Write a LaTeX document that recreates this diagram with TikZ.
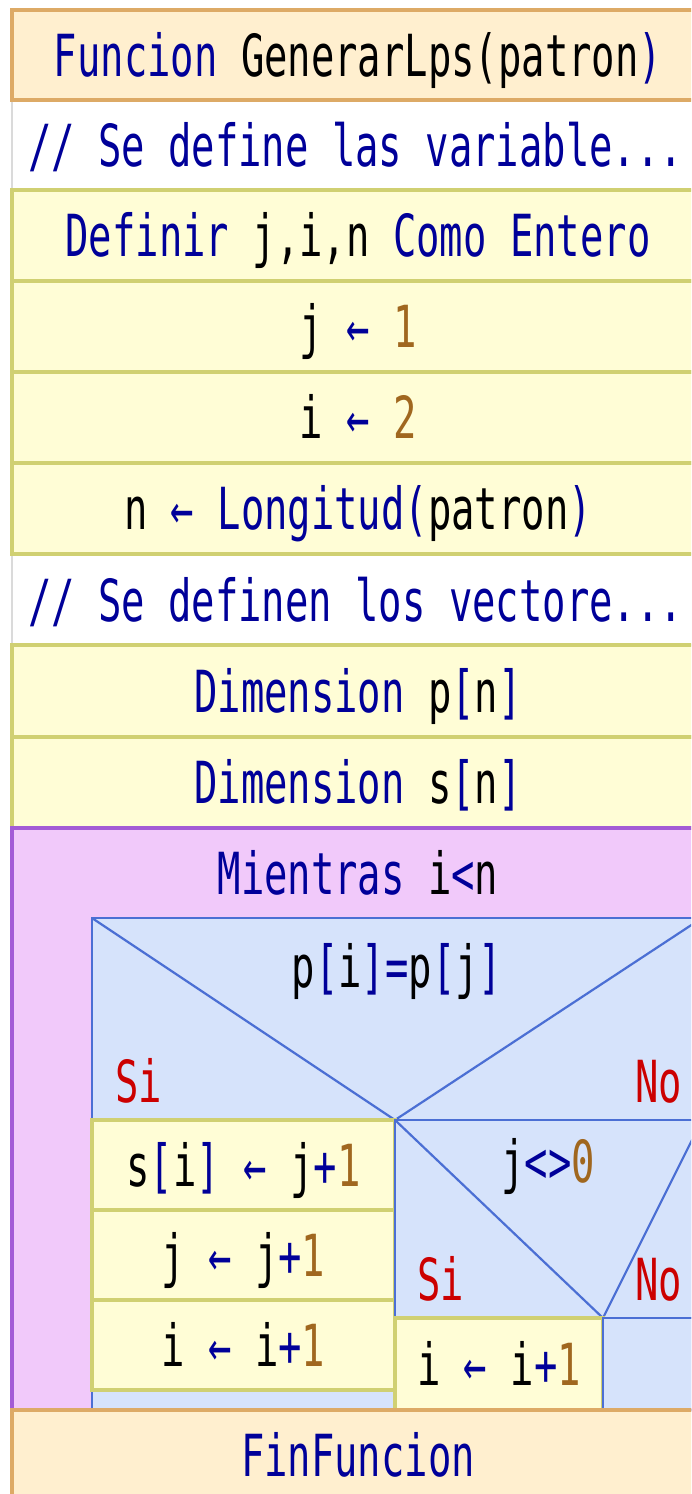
\documentclass[tikz,border=0pt]{standalone}
\usepackage{fontspec}
\setmainfont{DejaVu Sans Mono}[FakeStretch=0.67]
\definecolor{kw}{HTML}{000099}
\definecolor{nm}{HTML}{A0671F}
\definecolor{sino}{HTML}{CC0000}
\definecolor{hdrfill}{HTML}{FFEFCF}
\definecolor{hdrline}{HTML}{DDAA66}
\definecolor{stmtfill}{HTML}{FFFDD6}
\definecolor{stmtline}{HTML}{D0D072}
\definecolor{cmtline}{HTML}{DADADA}
\definecolor{loopfill}{HTML}{F1C9FA}
\definecolor{loopline}{HTML}{A35BD6}
\definecolor{condfill}{HTML}{D6E3FB}
\definecolor{condline}{HTML}{4B6FD4}
\newcommand{\kwd}[1]{\textcolor{kw}{#1}}
\newcommand{\nmb}[1]{\textcolor{nm}{#1}}
\begin{document}
\begin{tikzpicture}[x=1pt,y=-1pt,
  every node/.style={font=\fontsize{58}{60}\selectfont, inner sep=0pt, outer sep=0pt, text=black},
  box/.style={rectangle, anchor=north west, line width=3.5pt, text height=42pt, text depth=0pt},
  hdr/.style={box, fill=hdrfill, draw=hdrline},
  stmt/.style={box, fill=stmtfill, draw=stmtline},
  cmt/.style={box, fill=white, draw=cmtline, line width=2.5pt},
  loopbox/.style={box, fill=loopfill, draw=loopline, line width=3.5pt},
  condbox/.style={box, fill=condfill, draw=condline, line width=2.5pt},
  diag/.style={draw=condline, line width=2.2pt},
  lbl/.style={text=sino},
  cmttxt/.style={anchor=base west, text=kw},
  txt/.style={anchor=base}
]
\useasboundingbox (0,0) rectangle (691,1494);
\clip (0,0) rectangle (691,1494);
\fill[white] (0,0) rectangle (691,1494);

% comments
\node[cmt, minimum width=692pt, minimum height=90pt] (c1) at (12,100) {};
\node[cmttxt] (c1t) at (28,166) {// Se define las variable...};
\node[cmt, minimum width=692pt, minimum height=91pt] (c2) at (12,554) {};
\node[cmttxt] (c2t) at (28,621) {// Se definen los vectore...};

% header
\node[hdr, minimum width=692pt, minimum height=90pt] (hd) at (12,10) {\kwd{Funcion} GenerarLps(patron\kwd{)}};

% statements
\node[stmt, minimum width=692pt, minimum height=91pt] (def) at (12,190) {\kwd{Definir} j,i,n \kwd{Como Entero}};
\node[stmt, minimum width=692pt, minimum height=91pt] (sj) at (12,281) {j \kwd{←} \nmb{1}};
\node[stmt, minimum width=692pt, minimum height=91pt] (si) at (12,372) {i \kwd{←} \nmb{2}};
\node[stmt, minimum width=692pt, minimum height=91pt] (sn) at (12,463) {n \kwd{←} \kwd{Longitud(}patron\kwd{)}};
\node[stmt, minimum width=692pt, minimum height=92pt] (dp) at (12,645) {\kwd{Dimension} p\kwd{[}n\kwd{]}};
\node[stmt, minimum width=692pt, minimum height=91pt] (ds) at (12,737) {\kwd{Dimension} s\kwd{[}n\kwd{]}};

% while loop
\node[loopbox, minimum width=692pt, minimum height=582pt] (mw) at (12,828) {};
\node[txt] (mwt) at (358,894) {\kwd{Mientras} i\kwd{<}n};

% outer if
\node[condbox, minimum width=610pt, minimum height=492pt] (if1) at (92,918) {};
\coordinate (a1) at (395,1120);
\draw[diag] (if1.north west) -- (a1) -- (if1.north east);
\node[txt] (if1t) at (397,987) {p\kwd{[}i\kwd{]=}p\kwd{[}j\kwd{]}};
\node[lbl, anchor=base west] (si1) at (115,1102) {Si};
\node[lbl, anchor=base east] (no1) at (682,1102) {No};

% Si branch of outer if
\node[stmt, minimum width=303pt, minimum height=90pt] (b1) at (92,1120) {s\kwd{[}i\kwd{]} \kwd{←} j\kwd{+}\nmb{1}};
\node[stmt, minimum width=303pt, minimum height=90pt] (b2) at (92,1210) {j \kwd{←} j\kwd{+}\nmb{1}};
\node[stmt, minimum width=303pt, minimum height=90pt] (b3) at (92,1300) {i \kwd{←} i\kwd{+}\nmb{1}};

% inner if
\node[condbox, minimum width=307pt, minimum height=198pt] (if2) at (395,1120) {};
\coordinate (a2) at (603,1318);
\draw[diag] (if2.north west) -- (a2) -- (if2.north east);
\node[txt] (if2t) at (548,1182) {j\kwd{<>}\nmb{0}};
\node[lbl, anchor=base west] (si2) at (417,1300) {Si};
\node[lbl, anchor=base east] (no2) at (682,1300) {No};
\node[stmt, minimum width=208pt, minimum height=92pt] (b4) at (395,1318) {i \kwd{←} i\kwd{+}\nmb{1}};
\node[condbox, minimum width=99pt, minimum height=92pt] (e2) at (603,1318) {};

% end
\node[hdr, minimum width=692pt, minimum height=90pt] (fin) at (12,1410) {\kwd{FinFuncion}};
\end{tikzpicture}
\end{document}
